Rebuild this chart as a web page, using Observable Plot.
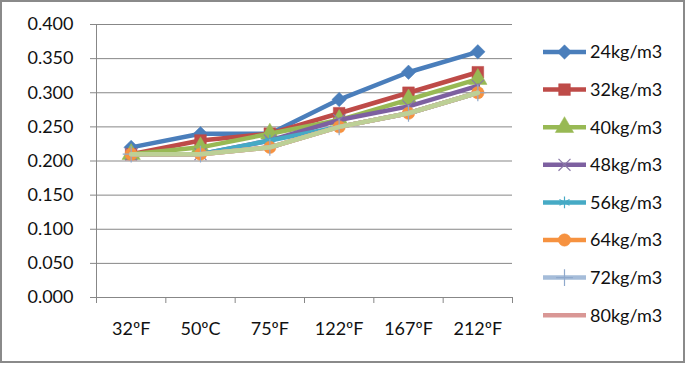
<!DOCTYPE html>
<html><head><meta charset="utf-8">
<script src="https://cdn.jsdelivr.net/npm/d3@7"></script>
<script src="https://cdn.jsdelivr.net/npm/@observablehq/plot@0.6"></script>
<style>
body{margin:0;background:#fff}
#wrap{position:relative;width:687px;height:366px;font-family:Lato,"Open Sans",sans-serif;overflow:hidden}
#frame{position:absolute;left:0;top:0;width:681px;height:359px;border:2px solid #8a8a8a;pointer-events:none}
#chart{position:absolute;left:0;top:0}
#legend{position:absolute;left:0;top:0}
</style></head>
<body>
<div id="wrap"><div id="chart"></div><svg id="legend" width="687" height="366"></svg><div id="frame"></div></div>
<script>
// ---- data ----
const temps = ["32ºF","50ºC","75ºF","122ºF","167ºF","212ºF"];
const seriesNames = ["24kg/m3","32kg/m3","40kg/m3","48kg/m3","56kg/m3","64kg/m3","72kg/m3","80kg/m3","88kg/m3"];
const legendCount = 8; // the 9th series is cut off from the legend
const s24 = [0.22,0.24,0.24,0.29,0.33,0.36];
const s32 = [0.21,0.23,0.24,0.27,0.30,0.33];
const s40 = [0.21,0.22,0.24,0.26,0.29,0.32];
const s48 = [0.21,0.21,0.23,0.26,0.28,0.31];
const s56 = [0.21,0.21,0.23,0.25,0.27,0.30];
const s64 = [0.21,0.21,0.22,0.25,0.27,0.30];
const s72 = [0.21,0.21,0.22,0.25,0.27,0.30];
const s80 = [0.21,0.21,0.22,0.25,0.27,0.30];
const s88 = [0.21,0.21,0.22,0.25,0.27,0.30];
const seriesValues = [s24,s32,s40,s48,s56,s64,s72,s80,s88];
const yTicks = [0,0.05,0.10,0.15,0.20,0.25,0.30,0.35,0.40];

// ---- styles ----
const colors = ["#4a7ebb","#be4b48","#98b954","#7d60a0","#46aac5","#f69240","#a5bcd9","#d99795","#bdd096"];
const markerColors = ["#4a7ebb","#be4b48","#98b954","#8a78a8","#46aac5","#f69240","#8fa9cc",null,null];
const symbols = ["diamond2","square","triangle","times","asterisk","circle","plus",null,null];
const filled = [true,true,true,false,false,true,false,false,false];
const radii = [6.5,6.6,6.8,5.5,5.5,6.2,5.5,0,0];
const gridColor = "#878787";
const fontSize = 18;
const fontFamily = "Lato, 'Open Sans', sans-serif";

const rows = [];
seriesValues.forEach((vals, s) => vals.forEach((v, i) => rows.push({s, name: seriesNames[s], i, v})));

const marks = [
  Plot.gridY(yTicks, {stroke: gridColor, strokeOpacity: 1}),
  Plot.axisY(yTicks, {tickSize: 6, tickPadding: 17, tickFormat: d3.format(".3f"), stroke: gridColor, fill: "#111", fontSize, label: null}),
  Plot.ruleX([-0.5], {stroke: gridColor}),
  Plot.axisX(d3.range(-0.5, 6, 1), {tickSize: 6, tickFormat: () => "", stroke: gridColor, label: null}),
  Plot.axisX(d3.range(6), {tickSize: 0, tickPadding: 25, tickFormat: i => temps[i], fill: "#111", fontSize, label: null})
];
seriesValues.forEach((vals, s) => {
  const d = rows.filter(r => r.s === s);
  marks.push(Plot.line(d, {x: "i", y: "v", stroke: colors[s], strokeWidth: 4.5, strokeLinejoin: "round"}));
  if (symbols[s]) {
    marks.push(Plot.dot(d, {x: "i", y: "v", symbol: () => symbols[s], r: radii[s],
      fill: filled[s] ? markerColors[s] : "none", stroke: markerColors[s], strokeWidth: filled[s] ? 0.5 : 1.2}));
  }
});

const chart = Plot.plot({
  width: 687, height: 366,
  marginLeft: 96, marginRight: 175, marginTop: 24, marginBottom: 69,
  style: {fontFamily, background: "transparent", overflow: "visible"},
  x: {type: "linear", domain: [-0.5, 5.5], axis: null},
  y: {domain: [0, 0.4], axis: null},
  marks
});
document.getElementById("chart").appendChild(chart);

// ---- legend ----
const symMap = {diamond2: d3.symbolDiamond2, square: d3.symbolSquare, triangle: d3.symbolTriangle, times: d3.symbolTimes, asterisk: d3.symbolAsterisk, circle: d3.symbolCircle, plus: d3.symbolPlus};
const lg = d3.select("#legend");
const lx0 = 543, lx1 = 586, ly0 = 52, ldy = 37.6;
for (let k = 0; k < legendCount; k++) {
  const y = ly0 + k * ldy;
  const g = lg.append("g");
  g.append("line").attr("x1", lx0).attr("x2", lx1).attr("y1", y).attr("y2", y)
    .attr("stroke", colors[k]).attr("stroke-width", 4.5);
  if (symbols[k]) {
    g.append("path").attr("transform", `translate(${(lx0 + lx1) / 2},${y})`)
      .attr("d", d3.symbol(symMap[symbols[k]], Math.PI * radii[k] * radii[k])())
      .attr("fill", filled[k] ? markerColors[k] : "none")
      .attr("stroke", markerColors[k]).attr("stroke-width", filled[k] ? 0.5 : 1.2);
  }
  g.append("text").attr("x", 590).attr("y", y).attr("dy", "0.35em")
    .attr("font-size", fontSize).attr("fill", "#111").attr("font-family", fontFamily)
    .text(seriesNames[k]);
}
</script>
</body></html>
